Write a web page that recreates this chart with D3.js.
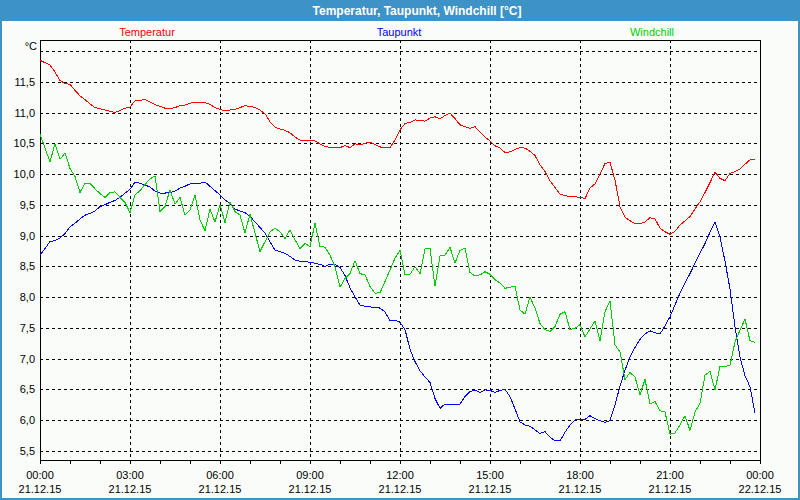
<!DOCTYPE html>
<html>
<head>
<meta charset="utf-8">
<script src="https://cdn.jsdelivr.net/npm/d3@7"></script>
<style>
  body { margin: 0; background: #fafcfa; }
  text { font-family: "Liberation Sans", Arial, sans-serif; }
</style>
</head>
<body>
<div id="chart"></div>
<script>
// readings every 10 minutes, 21.12.15 00:00 .. 23:50
const stepMinutes = 10;

const temperatur = [
  11.85, 11.81, 11.77, 11.66, 11.52, 11.47, 11.46, 11.36, 11.27, 11.21,
  11.14, 11.08, 11.06, 11.04, 11.02, 11.00, 11.03, 11.07, 11.09, 11.19,
  11.20, 11.21, 11.17, 11.13, 11.10, 11.07, 11.06, 11.08, 11.11, 11.12,
  11.15, 11.17, 11.16, 11.16, 11.13, 11.08, 11.05, 11.03, 11.04, 11.05,
  11.08, 11.11, 11.10, 11.08, 11.04, 10.98, 10.85, 10.76, 10.73, 10.71,
  10.67, 10.60, 10.55, 10.54, 10.54, 10.54, 10.49, 10.45, 10.43, 10.43,
  10.43, 10.46, 10.43, 10.49, 10.47, 10.50, 10.52, 10.48, 10.44, 10.43,
  10.43, 10.55, 10.72, 10.82, 10.84, 10.88, 10.87, 10.86, 10.91, 10.93,
  10.90, 10.95, 10.99, 10.90, 10.80, 10.77, 10.74, 10.77, 10.68, 10.60,
  10.54, 10.46, 10.42, 10.35, 10.36, 10.40, 10.43, 10.42, 10.37, 10.30,
  10.15, 10.04, 9.89, 9.78, 9.67, 9.65, 9.63, 9.63, 9.62, 9.60,
  9.77, 9.84, 10.00, 10.17, 10.19, 9.90, 9.47, 9.30, 9.24, 9.19,
  9.19, 9.22, 9.29, 9.27, 9.12, 9.06, 9.02, 9.07, 9.17, 9.24,
  9.31, 9.43, 9.55, 9.70, 9.86, 10.03, 9.93, 9.89, 10.01, 10.04,
  10.08, 10.16, 10.23, 10.23
];

const taupunkt = [
  8.68, 8.79, 8.90, 8.92, 8.96, 9.03, 9.14, 9.20, 9.27, 9.33,
  9.36, 9.40, 9.47, 9.50, 9.54, 9.57, 9.62, 9.69, 9.75, 9.87,
  9.85, 9.82, 9.79, 9.72, 9.69, 9.69, 9.70, 9.72, 9.77, 9.80,
  9.84, 9.85, 9.85, 9.87, 9.80, 9.73, 9.66, 9.58, 9.52, 9.43,
  9.40, 9.37, 9.31, 9.22, 9.13, 9.04, 8.90, 8.76, 8.74, 8.71,
  8.66, 8.60, 8.58, 8.58, 8.56, 8.55, 8.53, 8.50, 8.53, 8.53,
  8.48, 8.35, 8.15, 8.00, 7.87, 7.85, 7.84, 7.83, 7.82, 7.76,
  7.61, 7.62, 7.59, 7.47, 7.15, 6.95, 6.80, 6.70, 6.61, 6.35,
  6.19, 6.26, 6.26, 6.26, 6.26, 6.38, 6.46, 6.49, 6.45, 6.49,
  6.48, 6.45, 6.48, 6.50, 6.38, 6.18, 5.97, 5.92, 5.90, 5.84,
  5.78, 5.81, 5.72, 5.66, 5.66, 5.80, 5.92, 6.00, 6.01, 6.01,
  6.07, 6.02, 5.99, 5.96, 5.99, 6.25, 6.55, 6.81, 7.02, 7.18,
  7.31, 7.40, 7.45, 7.42, 7.40, 7.53, 7.68, 7.87, 8.06, 8.23,
  8.38, 8.55, 8.71, 8.87, 9.05, 9.22, 8.98, 8.58, 8.13, 7.52,
  7.02, 6.72, 6.54, 6.11
];

const windchill = [
  10.65, 10.42, 10.20, 10.49, 10.24, 10.34, 10.09, 9.96, 9.70, 9.85,
  9.85, 9.76, 9.68, 9.62, 9.70, 9.71, 9.62, 9.54, 9.37, 9.66,
  9.73, 9.83, 9.92, 9.97, 9.39, 9.47, 9.74, 9.51, 9.62, 9.33,
  9.41, 9.66, 9.25, 9.08, 9.43, 9.22, 9.50, 9.21, 9.55, 9.39,
  9.33, 9.04, 9.35, 9.04, 8.74, 8.90, 9.06, 9.12, 9.06, 8.95,
  9.09, 8.93, 8.79, 8.87, 8.82, 9.20, 8.82, 8.81, 8.68, 8.49,
  8.16, 8.30, 8.38, 8.59, 8.38, 8.36, 8.17, 8.06, 8.07, 8.25,
  8.44, 8.63, 8.76, 8.36, 8.37, 8.49, 8.38, 8.78, 8.79, 8.18,
  8.67, 8.68, 8.81, 8.55, 8.76, 8.79, 8.40, 8.34, 8.36, 8.41,
  8.37, 8.28, 8.23, 8.14, 8.16, 8.17, 7.79, 7.72, 8.00, 7.82,
  7.57, 7.47, 7.44, 7.52, 7.72, 7.76, 7.47, 7.49, 7.55, 7.35,
  7.48, 7.61, 7.29, 7.76, 7.94, 7.22, 7.11, 6.66, 6.77, 6.70,
  6.41, 6.66, 6.26, 6.30, 6.15, 6.13, 5.77, 5.79, 5.92, 6.07,
  5.83, 6.13, 6.27, 6.73, 6.79, 6.49, 6.87, 6.87, 6.89, 7.27,
  7.46, 7.64, 7.29, 7.26
];

const yTicks = [5.5, 6.0, 6.5, 7.0, 7.5, 8.0, 8.5, 9.0, 9.5, 10.0, 10.5, 11.0, 11.5];
const yGrid = [5.5, 6.0, 6.5, 7.0, 7.5, 8.0, 8.5, 9.0, 9.5, 10.0, 10.5, 11.0, 11.5, 12.0];
const xMajor = [0, 180, 360, 540, 720, 900, 1080, 1260, 1440];
const xTimeLabels = ["00:00", "03:00", "06:00", "09:00", "12:00", "15:00", "18:00", "21:00", "00:00"];
const xDateLabels = ["21.12.15", "21.12.15", "21.12.15", "21.12.15", "21.12.15", "21.12.15", "21.12.15", "21.12.15", "22.12.15"];
const xMinor = [0, 60, 120, 180, 240, 300, 360, 420, 480, 540, 600, 660, 720, 780, 840, 900, 960, 1020, 1080, 1140, 1200, 1260, 1320, 1380, 1440];

const series = [
  { name: "Temperatur", values: temperatur, color: "#ff0000", lx: 147 },
  { name: "Taupunkt", values: taupunkt, color: "#0000ff", lx: 399 },
  { name: "Windchill", values: windchill, color: "#00cc00", lx: 652 }
];

const width = 800, height = 500;
const plot = { left: 40, right: 760, top: 40, bottom: 460 };

const svg = d3.select("#chart").append("svg")
    .attr("width", width)
    .attr("height", height);

svg.append("rect")
    .attr("width", width).attr("height", height)
    .attr("fill", "#fafcfa");

// title bar + frame
svg.append("rect")
    .attr("x", 0).attr("y", 0).attr("width", width).attr("height", 21)
    .attr("fill", "#3d92c6");
svg.append("rect")
    .attr("x", 1).attr("y", 1).attr("width", width - 2).attr("height", height - 2)
    .attr("fill", "none").attr("stroke", "#3d92c6").attr("stroke-width", 2);
svg.append("text")
    .attr("x", 417).attr("y", 15)
    .attr("text-anchor", "middle")
    .attr("fill", "#ffffff")
    .attr("font-size", "12px").attr("font-weight", "bold")
    .text("Temperatur, Taupunkt, Windchill [°C]");

const x = d3.scaleLinear().domain([0, 1440]).range([plot.left, plot.right]);
const y = d3.scaleLinear()
    .domain([12 - (plot.bottom - 51) / 61.5, 12 + (51 - plot.top) / 61.5])
    .range([plot.bottom, plot.top]);

// grid
svg.append("g").selectAll("line")
    .data(yGrid)
    .enter().append("line")
    .attr("x1", plot.left).attr("x2", plot.right)
    .attr("y1", d => Math.round(y(d)) + 0.5).attr("y2", d => Math.round(y(d)) + 0.5)
    .attr("stroke", "#000").attr("stroke-dasharray", "3,3");

svg.append("g").selectAll("line")
    .data(xMajor.slice(1, -1))
    .enter().append("line")
    .attr("x1", d => Math.round(x(d)) + 0.5).attr("x2", d => Math.round(x(d)) + 0.5)
    .attr("y1", plot.top).attr("y2", plot.bottom)
    .attr("stroke", "#000").attr("stroke-dasharray", "3,3");

// axes
const yAxis = svg.append("g")
    .attr("transform", `translate(${plot.left},0)`)
    .call(d3.axisLeft(y).tickValues(yTicks).tickSize(0).tickPadding(5)
      .tickFormat(d => d3.format(".1f")(d).replace(".", ",")));
yAxis.select(".domain").remove();
yAxis.selectAll("text").attr("font-size", "11px").attr("fill", "#000")
    .attr("font-family", "'Liberation Sans', Arial, sans-serif");

const xAxis = svg.append("g")
    .attr("transform", `translate(0,${plot.bottom})`)
    .call(d3.axisBottom(x).tickValues(xMinor).tickSize(4).tickFormat(""));
xAxis.select(".domain").remove();
xAxis.selectAll("line").attr("shape-rendering", "crispEdges");

svg.append("g").selectAll("text")
    .data(xMajor)
    .enter().append("text")
    .attr("x", d => x(d)).attr("y", 479)
    .attr("text-anchor", "middle").attr("font-size", "11px")
    .text((d, i) => xTimeLabels[i]);

svg.append("g").selectAll("text")
    .data(xMajor)
    .enter().append("text")
    .attr("x", d => x(d)).attr("y", 493)
    .attr("text-anchor", "middle").attr("font-size", "11px")
    .text((d, i) => xDateLabels[i]);

svg.append("text")
    .attr("x", 37).attr("y", 50)
    .attr("text-anchor", "end").attr("font-size", "11px")
    .text("°C");

// plot frame
svg.append("rect")
    .attr("x", plot.left + 0.5).attr("y", plot.top + 0.5)
    .attr("width", plot.right - plot.left).attr("height", plot.bottom - plot.top)
    .attr("fill", "none").attr("stroke", "#000");

// lines
const line = d3.line()
    .x((d, i) => x(i * stepMinutes))
    .y(d => y(d));

svg.append("g").selectAll("path")
    .data(series)
    .enter().append("path")
    .attr("d", d => line(d.values))
    .attr("fill", "none")
    .attr("stroke", d => d.color)
    .attr("stroke-width", 1)
    .attr("shape-rendering", "crispEdges");

// legend
svg.append("g").selectAll("text")
    .data(series)
    .enter().append("text")
    .attr("x", d => d.lx).attr("y", 36)
    .attr("text-anchor", "middle").attr("font-size", "11px")
    .attr("fill", d => d.color)
    .text(d => d.name);
</script>
</body>
</html>
